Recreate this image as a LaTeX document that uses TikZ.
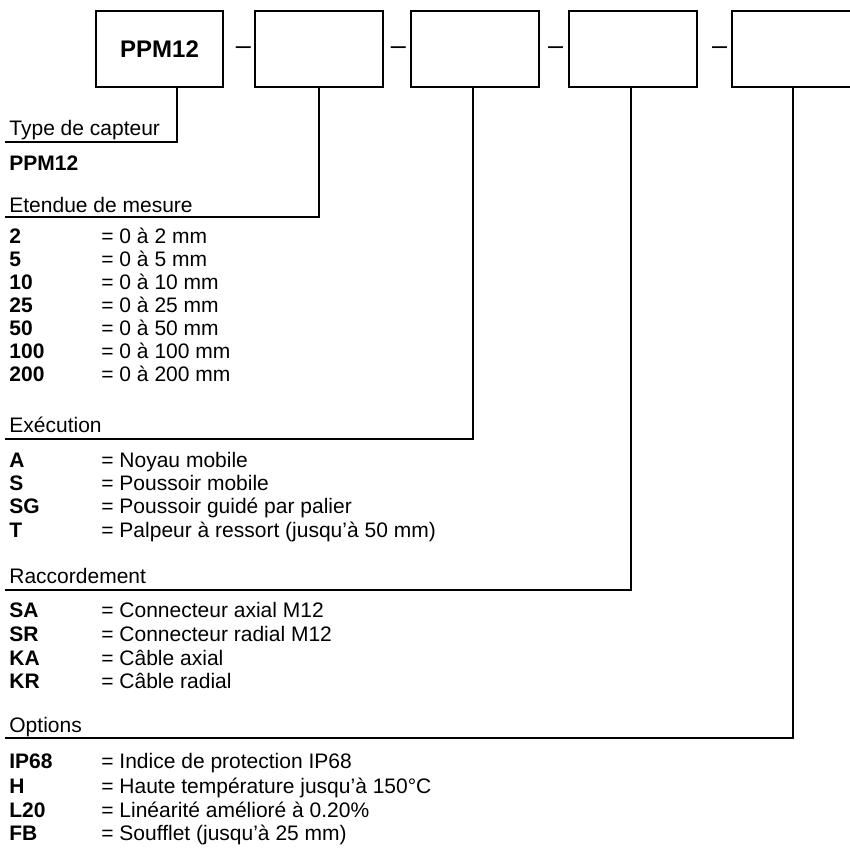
\documentclass[tikz,border=0pt]{standalone}
\usepackage{fontspec}
\setmainfont{Liberation Sans}
\usetikzlibrary{positioning,calc}
\newcommand{\optcode}[1]{\makebox[46pt][l]{\bfseries #1}}

\begin{document}
\begin{tikzpicture}[x=0.5pt,y=-0.5pt, every node/.style={font=\fontsize{10.5}{12}\selectfont, inner sep=0pt}]
    \useasboundingbox (0,0) rectangle (850,848);
    \clip (0,0) rectangle (850,848);
    % code boxes
    \node[draw, rectangle, line width=1pt, minimum width=63.5pt, minimum height=38pt, font=\fontsize{12}{14}\selectfont\bfseries] (bxtype) at (159.5,49) {PPM12};
    \node[draw, rectangle, line width=1pt, minimum width=64pt, minimum height=38pt] (bxrange) at (319,49) {};
    \node[draw, rectangle, line width=1pt, minimum width=64pt, minimum height=38pt] (bxexec) at (475,49) {};
    \node[draw, rectangle, line width=1pt, minimum width=64pt, minimum height=38pt] (bxconn) at (633,49) {};
    \node[draw, rectangle, line width=1pt, minimum width=61pt, minimum height=38pt] (bxopt) at (793,49) {};
    \node[anchor=base, font=\fontsize{13.5}{16}\selectfont] (dsha) at (243.5,54.5) {–};
    \node[anchor=base, font=\fontsize{13.5}{16}\selectfont] (dshb) at (398.5,54.5) {–};
    \node[anchor=base, font=\fontsize{13.5}{16}\selectfont] (dshc) at (555.5,54.5) {–};
    \node[anchor=base, font=\fontsize{13.5}{16}\selectfont] (dshd) at (719.5,54.5) {–};
    % headings and their lines
    \node[anchor=base west] (htype) at (9,135) {Type de capteur};
    \node[anchor=base west] (hrange) at (9,212) {Etendue de mesure};
    \node[anchor=base west] (hexec) at (9,432) {Exécution};
    \node[anchor=base west] (hconn) at (9,583) {Raccordement};
    \node[anchor=base west] (hopt) at (9,732) {Options};
    \coordinate (utype) at (5,142);
    \coordinate (urange) at (5,217);
    \coordinate (uexec) at (5,439);
    \coordinate (uconn) at (5,590);
    \coordinate (uopt) at (5,738);
    \draw[line width=0.85pt] ([xshift=8.75pt]bxtype.south) |- (utype);
    \draw[line width=0.85pt] (bxrange.south) |- (urange);
    \draw[line width=0.85pt] ([xshift=-1pt]bxexec.south) |- (uexec);
    \draw[line width=0.85pt] ([xshift=-1pt]bxconn.south) |- (uconn);
    \draw[line width=0.85pt] (bxopt.south) |- (uopt);
    % entries
    \node[anchor=base west, font=\fontsize{10.5}{12}\selectfont\bfseries] (ttype) at (9,170) {PPM12};
    \node[anchor=base west] (r2) at (9,243) {\optcode{2}= 0 à 2 mm};
    \node[anchor=base west] (r5) at (9,266) {\optcode{5}= 0 à 5 mm};
    \node[anchor=base west] (r10) at (9,289) {\optcode{10}= 0 à 10 mm};
    \node[anchor=base west] (r25) at (9,312) {\optcode{25}= 0 à 25 mm};
    \node[anchor=base west] (r50) at (9,335) {\optcode{50}= 0 à 50 mm};
    \node[anchor=base west] (r100) at (9,358) {\optcode{100}= 0 à 100 mm};
    \node[anchor=base west] (r200) at (9,381) {\optcode{200}= 0 à 200 mm};
    \node[anchor=base west] (ea) at (9,467) {\optcode{A}= Noyau mobile};
    \node[anchor=base west] (es) at (9,490) {\optcode{S}= Poussoir mobile};
    \node[anchor=base west] (esg) at (9,513) {\optcode{SG}= Poussoir guidé par palier};
    \node[anchor=base west] (et) at (9,537) {\optcode{T}= Palpeur à ressort (jusqu’à 50 mm)};
    \node[anchor=base west] (csa) at (9,617) {\optcode{SA}= Connecteur axial M12};
    \node[anchor=base west] (csr) at (9,641) {\optcode{SR}= Connecteur radial M12};
    \node[anchor=base west] (cka) at (9,665) {\optcode{KA}= Câble axial};
    \node[anchor=base west] (ckr) at (9,688) {\optcode{KR}= Câble radial};
    \node[anchor=base west] (oip) at (9,768) {\optcode{IP68}= Indice de protection IP68};
    \node[anchor=base west] (oh) at (9,793) {\optcode{H}= Haute température jusqu’à 150°C};
    \node[anchor=base west] (ol) at (9,817) {\optcode{L20}= Linéarité amélioré à 0.20\%};
    \node[anchor=base west] (ofb) at (9,840) {\optcode{FB}= Soufflet (jusqu’à 25 mm)};
\end{tikzpicture}
\end{document}
